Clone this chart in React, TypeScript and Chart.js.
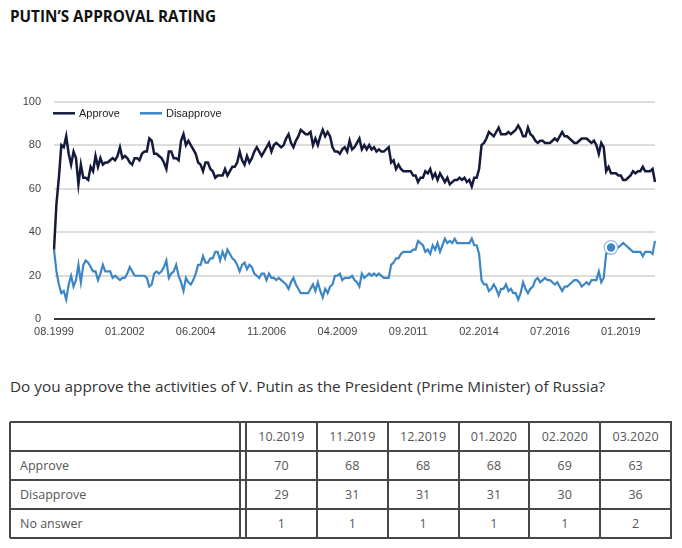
import React, { useEffect, useRef, useMemo } from 'react';
import { Chart, registerables } from 'chart.js';

Chart.register(...registerables);

// ---- Data (monthly, 08.1999 – 03.2020) ----
const approve = [
  32, 53, 65, 80, 79, 84, 76, 71, 77, 74, 62, 71, 65, 65, 64, 70, 68, 75, 70, 74,
  71, 72, 72, 73, 74, 73, 75, 79, 74, 75, 74, 72, 71, 74, 74, 73, 76, 77, 77, 83, 82,
  76, 76, 75, 74, 72, 69, 77, 77, 74, 74, 73, 82, 85, 80, 82, 80, 78, 76, 72, 71,
  68, 72, 72, 69, 68, 65, 66, 66, 66, 69, 66, 68, 70, 70, 72, 77, 73, 71, 75, 72, 74,
  77, 79, 77, 75, 77, 79, 81, 77, 80, 81, 80, 79, 80, 83, 85, 81, 79, 82, 84, 87,
  86, 85, 85, 86, 80, 83, 80, 84, 87, 84, 86, 84, 79, 77, 77, 76, 78, 79, 77, 82,
  78, 79, 81, 83, 78, 80, 78, 80, 78, 79, 77, 78, 77, 77, 78, 79, 72, 73, 69, 71,
  69, 68, 68, 68, 68, 66, 66, 63, 65, 65, 68, 67, 69, 65, 67, 64, 67, 65, 63, 65, 62,
  63, 64, 64, 65, 64, 65, 63, 64, 61, 65, 65, 69, 80, 81, 83, 86, 85, 84, 86, 88,
  85, 85, 85, 86, 85, 86, 87, 89, 87, 84, 84, 88, 85, 84, 82, 81, 82, 82, 81, 81,
  81, 82, 83, 82, 84, 86, 84, 84, 83, 82, 81, 81, 82, 83, 83, 83, 82, 81, 82, 80,
  76, 81, 79, 68, 70, 67, 67, 67, 66, 66, 64, 64, 65, 66, 68, 67, 68, 68, 70, 68,
  68, 68, 69, 63,
];

const disapprove = [
  32, 22, 16, 12, 13, 9, 16, 20, 15, 18, 25, 17, 25, 27, 26, 24, 22, 22, 18, 21,
  25, 22, 22, 22, 19, 20, 19, 18, 19, 19, 21, 24, 22, 20, 20, 20, 20, 20, 19, 15, 16,
  21, 22, 21, 22, 24, 27, 19, 21, 22, 25, 20, 17, 13, 19, 17, 16, 18, 21, 25, 25,
  29, 26, 26, 28, 28, 31, 31, 27, 31, 28, 32, 30, 28, 27, 25, 22, 25, 26, 23, 25, 24,
  21, 20, 19, 21, 21, 18, 21, 19, 19, 18, 19, 18, 17, 16, 14, 17, 19, 16, 14, 12,
  12, 12, 12, 14, 16, 13, 17, 13, 10, 14, 12, 15, 16, 20, 20, 21, 18, 19, 19, 19,
  20, 18, 17, 15, 21, 19, 20, 21, 20, 21, 20, 21, 20, 19, 19, 19, 25, 26, 28, 28,
  30, 31, 31, 31, 31, 32, 32, 36, 35, 34, 31, 32, 30, 34, 32, 35, 31, 34, 37, 35, 36,
  35, 37, 35, 35, 35, 35, 35, 35, 37, 34, 34, 30, 18, 16, 16, 13, 14, 16, 14, 11,
  14, 14, 16, 13, 14, 12, 12, 9, 12, 17, 14, 12, 14, 15, 18, 19, 17, 18, 19, 18,
  18, 17, 16, 17, 15, 13, 15, 15, 16, 17, 18, 18, 17, 15, 16, 17, 16, 18, 18, 18,
  22, 17, 19, 30, 32, 33, 32, 33, 33, 34, 35, 34, 33, 32, 31, 31, 31, 31, 29, 31,
  31, 31, 30, 36,
];

const firstMonth = 8;
const firstYear = 1999;
const skippedMonths = ['01.2017'];
const tickLabels = ['08.1999', '01.2002', '06.2004', '11.2006', '04.2009', '09.2011', '02.2014', '07.2016', '01.2019'];
const highlightIndex = 228;

const seriesNames = ['Approve', 'Disapprove'];
const seriesColors = ['#141a3a', '#3d86c6'];

const tableMonths = ['10.2019', '11.2019', '12.2019', '01.2020', '02.2020', '03.2020'];
const tableRowNames = ['Approve', 'Disapprove', 'No answer'];
const tableApprove = [70, 68, 68, 68, 69, 63];
const tableDisapprove = [29, 31, 31, 31, 30, 36];
const tableNoAnswer = [1, 1, 1, 1, 1, 2];

function buildMonths(count: number): string[] {
  const out: string[] = [];
  let m = firstMonth;
  let y = firstYear;
  while (out.length < count) {
    const lab = (m < 10 ? '0' : '') + m + '.' + y;
    if (!skippedMonths.includes(lab)) out.push(lab);
    m++;
    if (m > 12) { m = 1; y++; }
  }
  return out;
}
const months = buildMonths(approve.length);

const insideLegend = {
  id: 'insideLegend',
  afterDraw(chart: any) {
    const ctx = chart.ctx;
    const { left, top } = chart.chartArea;
    ctx.save();
    ctx.font = '11px Arial';
    ctx.textBaseline = 'middle';
    let x = left - 1;
    const y = top + 11.8;
    chart.data.datasets.forEach((ds: any) => {
      ctx.strokeStyle = ds.borderColor;
      ctx.lineWidth = 2.5;
      ctx.beginPath();
      ctx.moveTo(x, y);
      ctx.lineTo(x + 22, y);
      ctx.stroke();
      ctx.fillStyle = '#222';
      ctx.fillText(ds.label, x + 26, y + 0.5);
      x += 26 + ctx.measureText(ds.label).width + 20;
    });
    ctx.restore();
  },
};

const focusPoint = {
  id: 'focusPoint',
  afterDatasetsDraw(chart: any) {
    const meta = chart.getDatasetMeta(1);
    const pt = meta.data[highlightIndex];
    if (!pt) return;
    const ctx = chart.ctx;
    const color = chart.data.datasets[1].borderColor;
    ctx.save();
    ctx.beginPath();
    ctx.arc(pt.x, pt.y, 6.8, 0, Math.PI * 2);
    ctx.fillStyle = '#ffffff';
    ctx.fill();
    ctx.lineWidth = 1.3;
    ctx.strokeStyle = 'rgba(61,134,198,0.55)';
    ctx.stroke();
    ctx.beginPath();
    ctx.arc(pt.x, pt.y, 4.2, 0, Math.PI * 2);
    ctx.fillStyle = color;
    ctx.fill();
    ctx.restore();
  },
};

function FitText(props: { text: string; family: string; size: number; weight?: number; width: number; left: number; top: number; color: string }) {
  const { text, family, size, weight = 400, width, left, top, color } = props;
  const scale = useMemo(() => {
    const c = document.createElement('canvas').getContext('2d');
    if (!c) return 1;
    c.font = `${weight} ${size}px ${family}`;
    const w = c.measureText(text).width;
    return w > 0 ? width / w : 1;
  }, [text, family, size, weight, width]);
  return (
    <div
      style={{
        position: 'absolute',
        left,
        top,
        fontFamily: family,
        fontSize: size,
        fontWeight: weight,
        lineHeight: `${size}px`,
        color,
        whiteSpace: 'nowrap',
        transform: `scaleX(${scale})`,
        transformOrigin: 'left top',
      }}
    >
      {text}
    </div>
  );
}

function ApprovalChart() {
  const ref = useRef<HTMLCanvasElement | null>(null);
  useEffect(() => {
    if (!ref.current) return;
    const chart: any = new Chart(ref.current, {
      type: 'line',
      data: {
        labels: months,
        datasets: [
          { label: seriesNames[0], data: approve, borderColor: seriesColors[0], backgroundColor: seriesColors[0], borderWidth: 2.5, pointRadius: 0, tension: 0 },
          { label: seriesNames[1], data: disapprove, borderColor: seriesColors[1], backgroundColor: seriesColors[1], borderWidth: 2.2, pointRadius: 0, tension: 0 },
        ],
      },
      options: {
        animation: false,
        responsive: false,
        devicePixelRatio: 1,
        layout: { padding: { left: 0, right: 27, top: 11.5, bottom: 0 } },
        plugins: { legend: { display: false }, tooltip: { enabled: false }, title: { display: false } },
        scales: {
          x: {
            type: 'category',
            offset: false,
            grid: { display: false, drawTicks: false },
            border: { display: false },
            ticks: {
              autoSkip: false,
              maxRotation: 0,
              minRotation: 0,
              padding: 6,
              color: '#444',
              font: { family: 'Arial', size: 11 },
              callback: (_v: any, i: number) => (tickLabels.includes(months[i]) ? months[i] : ''),
            },
            afterFit: (s: any) => { s.height = 30.7; s.paddingLeft = 0; s.paddingRight = 0; },
          },
          y: {
            min: 0,
            max: 100,
            grid: {
              drawTicks: false,
              color: (c: any) => (c.tick && c.tick.value === 0 ? '#333333' : '#dddddd'),
              lineWidth: 2,
            },
            border: { display: false },
            ticks: { stepSize: 20, padding: 13, color: '#444', font: { family: 'Arial', size: 11 } },
            afterFit: (s: any) => { s.width = 54; s.paddingTop = 6; s.paddingBottom = 6; },
          },
        },
      },
      plugins: [insideLegend, focusPoint],
    });
    return () => chart.destroy();
  }, []);
  return <canvas ref={ref} width={682} height={260} style={{ position: 'absolute', left: 0, top: 90, width: 682, height: 260 }} />;
}

function DataTable() {
  const top = 422;
  const rowH = 29;
  const left = 10;
  const right = 671;
  const firstColRight = 240;
  const dataLeft = 246;
  const colW = (right - dataLeft) / tableMonths.length;
  const rows = [tableApprove, tableDisapprove, tableNoAnswer];
  const bottom = top + rowH * (rows.length + 1);
  const line = '#474747';
  const hLines = [0, 1, 2, 3, 4].map((k) => top + k * rowH);
  const vLines = [left, firstColRight, dataLeft, ...tableMonths.map((_, i) => dataLeft + colW * (i + 1))];
  const textStyle = { fontFamily: '"Open Sans"', fontSize: 12.5, color: '#555', lineHeight: `${rowH}px`, whiteSpace: 'nowrap' as const };
  return (
    <>
      {hLines.map((y, i) => (
        <div key={'h' + i} style={{ position: 'absolute', left, top: y - 1, width: right - left + 1, height: 2, background: line }} />
      ))}
      {vLines.map((x, i) => (
        <div key={'v' + i} style={{ position: 'absolute', left: x - 1, top, width: 2, height: bottom - top, background: line }} />
      ))}
      {tableMonths.map((m, i) => (
        <div key={'m' + i} style={{ ...textStyle, position: 'absolute', left: dataLeft + colW * i, top, width: colW, textAlign: 'center' }}>{m}</div>
      ))}
      {tableRowNames.map((n, r) => (
        <div key={'r' + r} style={{ ...textStyle, position: 'absolute', left: 20, top: top + rowH * (r + 1) }}>{n}</div>
      ))}
      {rows.map((vals, r) =>
        vals.map((v, i) => (
          <div key={'c' + r + '-' + i} style={{ ...textStyle, position: 'absolute', left: dataLeft + colW * i, top: top + rowH * (r + 1), width: colW, textAlign: 'center' }}>{v}</div>
        ))
      )}
    </>
  );
}

export default function App() {
  return (
    <div style={{ position: 'absolute', left: 0, top: 0, width: 682, height: 548, background: '#fff', overflow: 'hidden' }}>
      <FitText text="PUTIN’S APPROVAL RATING" family='"Open Sans"' size={15.5} weight={700} width={206} left={10} top={8.7} color="#111" />
      <ApprovalChart />
      <FitText text="Do you approve the activities of V. Putin as the President (Prime Minister) of Russia?" family='"Open Sans"' size={15.3} width={595} left={10} top={379} color="#333" />
      <DataTable />
    </div>
  );
}
